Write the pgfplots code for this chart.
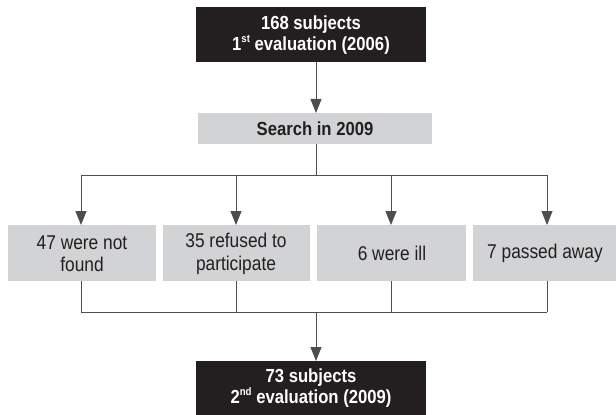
\documentclass[border=0pt]{standalone}
\usepackage{pgfplots}
\pgfplotsset{compat=1.18}
\usepackage{fontspec}
\setmainfont{Liberation Sans}
\newfontfamily\regfont{Liberation Sans}[FakeStretch=0.87]
\newfontfamily\boldfont{Liberation Sans Bold}[FakeStretch=0.88]
\usetikzlibrary{arrows.meta}
\definecolor{dark}{HTML}{231F20}
\definecolor{lgray}{HTML}{D1D3D4}
\definecolor{ln}{HTML}{4D4D4F}
\newcommand{\sups}[1]{\raisebox{0.42em}{\fontsize{11}{11}\selectfont #1}}
\tikzset{
  reg/.style={align=center, inner sep=0pt, text=dark, font=\regfont\fontsize{20}{22.5}\selectfont},
  bw/.style={align=center, inner sep=0pt, text=white, font=\boldfont\fontsize{19}{20.5}\selectfont},
  bd/.style={align=center, inner sep=0pt, text=dark, font=\boldfont\fontsize{19}{20.5}\selectfont},
  arr/.style={ln, line width=0.9bp, -{Triangle[length=14bp,width=11bp]}},
  lin/.style={ln, line width=0.9bp},
}
\begin{document}
\begin{tikzpicture}
\begin{axis}[
  width=616bp, height=415bp, scale only axis,
  xmin=0, xmax=616, ymin=0, ymax=415, y dir=reverse,
  hide axis, clip=false,
]
\path (axis cs:0,0) rectangle (axis cs:616,415);
% boxes
\addplot[fill=dark, draw=none] coordinates {(196,7) (426,7) (426,62) (196,62)} -- cycle;
\addplot[fill=lgray, draw=none] coordinates {(198,113) (432,113) (432,144) (198,144)} -- cycle;
\addplot[fill=lgray, draw=none] coordinates {(8,225) (156,225) (156,281) (8,281)} -- cycle;
\addplot[fill=lgray, draw=none] coordinates {(163,225) (310,225) (310,281) (163,281)} -- cycle;
\addplot[fill=lgray, draw=none] coordinates {(317,225) (466,225) (466,281) (317,281)} -- cycle;
\addplot[fill=lgray, draw=none] coordinates {(473,225) (616,225) (616,281) (473,281)} -- cycle;
\addplot[fill=dark, draw=none] coordinates {(196,361) (426,361) (426,415) (196,415)} -- cycle;
% connectors
\addplot[arr] coordinates {(316,62) (316,113)};
\addplot[lin] coordinates {(316,144) (316,175)};
\addplot[lin] coordinates {(81,175) (547,175)};
\addplot[arr] coordinates {(81,175) (81,225)};
\addplot[arr] coordinates {(236,175) (236,225)};
\addplot[arr] coordinates {(391,175) (391,225)};
\addplot[arr] coordinates {(547,175) (547,225)};
\addplot[lin] coordinates {(81,281) (81,312)};
\addplot[lin] coordinates {(236,281) (236,312)};
\addplot[lin] coordinates {(391,281) (391,312)};
\addplot[lin] coordinates {(547,281) (547,312)};
\addplot[lin] coordinates {(81,312) (547,312)};
\addplot[arr] coordinates {(316,312) (316,361)};
% texts
\node[bw] at (axis cs:311,35) {168 subjects\\1\sups{st} evaluation (2006)};
\node[bd] at (axis cs:315,129) {Search in 2009};
\node[reg] at (axis cs:82,254) {47 were not\\found};
\node[reg] at (axis cs:236,254) {35 refused to\\participate};
\node[reg] at (axis cs:392,253) {6 were ill};
\node[reg] at (axis cs:545,253) {7 passed away};
\node[bw] at (axis cs:311,388) {73 subjects\\2\sups{nd} evaluation (2009)};
\end{axis}
\end{tikzpicture}
\end{document}
